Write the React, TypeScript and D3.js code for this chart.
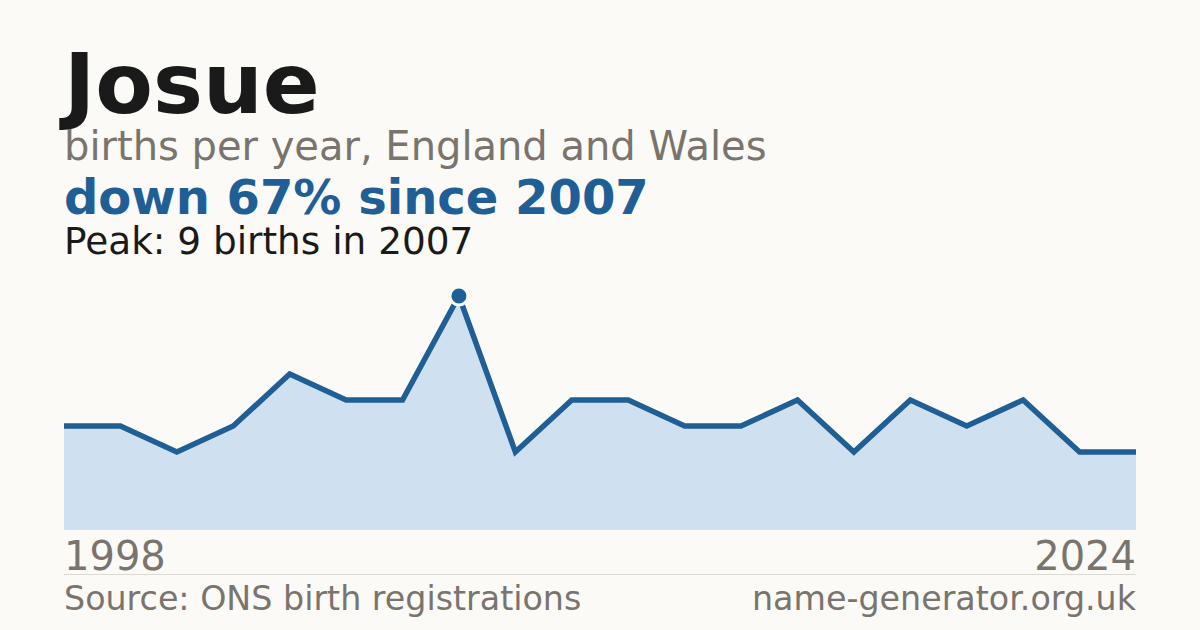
import React from "react";
import * as d3 from "d3";

const width = 1200;
const height = 630;
const margin = { left: 64, right: 64 }; // plot spans 64..1136
const plotTop = 296; // y of the peak value
const plotBottom = 530; // baseline of the area

const blue = "#1f5f96";
const areaFill = "#cfe0f0";
const grey = "#79746d";
const ink = "#1a1a1a";
const bg = "#fbfaf6";
const font = "'DejaVu Sans', sans-serif";

// years with a published count (years under 3 births are suppressed)
const years = [
  1998, 1999, 2001, 2002, 2003, 2004, 2006, 2007, 2008, 2010, 2011, 2012,
  2014, 2015, 2017, 2018, 2020, 2021, 2023, 2024,
];
const births = [4, 4, 3, 4, 6, 5, 5, 9, 3, 5, 5, 4, 4, 5, 3, 5, 4, 5, 3, 3];

const name = "Josue";
const subtitle = "births per year, England and Wales";
const firstYear = "1998";
const lastYear = "2024";

const App = () => {
  const data = years.map((y, i) => ({ year: y, value: births[i] }));
  const peak = data.reduce((a, b) => (b.value > a.value ? b : a));
  const last = data[data.length - 1];
  const change = Math.round(((last.value - peak.value) / peak.value) * 100);

  const x = d3
    .scalePoint<number>()
    .domain(years)
    .range([margin.left, width - margin.right]);
  const y = d3
    .scaleLinear()
    .domain([0, d3.max(births) || 0])
    .range([plotBottom, plotTop]);

  const line = d3
    .line<{ year: number; value: number }>()
    .x((d) => x(d.year) as number)
    .y((d) => y(d.value));
  const area = d3
    .area<{ year: number; value: number }>()
    .x((d) => x(d.year) as number)
    .y0(y(0))
    .y1((d) => y(d.value));

  return (
    <svg
      width={width}
      height={height}
      style={{ position: "absolute", left: 0, top: 0, display: "block" }}
      fontFamily={font}
    >
      <rect width={width} height={height} fill={bg} />
      <text x={64} y={113} fontSize={84} fontWeight="bold" fill={ink}>
        {name}
      </text>
      <text x={64} y={160} fontSize={40} fill={grey}>
        {subtitle}
      </text>
      <text x={64} y={214} fontSize={48} fontWeight="bold" fill={blue}>
        {`${change < 0 ? "down" : "up"} ${Math.abs(change)}% since ${peak.year}`}
      </text>
      <text x={64} y={254} fontSize={37.4} fill={ink}>
        {`Peak: ${peak.value} births in ${peak.year}`}
      </text>

      <path d={area(data) || ""} fill={areaFill} />
      <path
        d={line(data) || ""}
        fill="none"
        stroke={blue}
        strokeWidth={5.5}
        strokeLinejoin="miter"
      />
      <circle
        cx={x(peak.year)}
        cy={y(peak.value)}
        r={9}
        fill={blue}
        stroke={bg}
        strokeWidth={3}
      />

      <text x={64} y={570} fontSize={40} fill={grey}>
        {firstYear}
      </text>
      <text x={1136} y={570} fontSize={40} fill={grey} textAnchor="end">
        {lastYear}
      </text>
      <line x1={64} x2={1136} y1={574.5} y2={574.5} stroke="#dddad3" strokeWidth={1} />
      <text x={64} y={610} fontSize={33.3} fill={grey}>
        Source: ONS birth registrations
      </text>
      <text x={1136} y={610} fontSize={33.3} fill={grey} textAnchor="end">
        name-generator.org.uk
      </text>
    </svg>
  );
};

export default App;
